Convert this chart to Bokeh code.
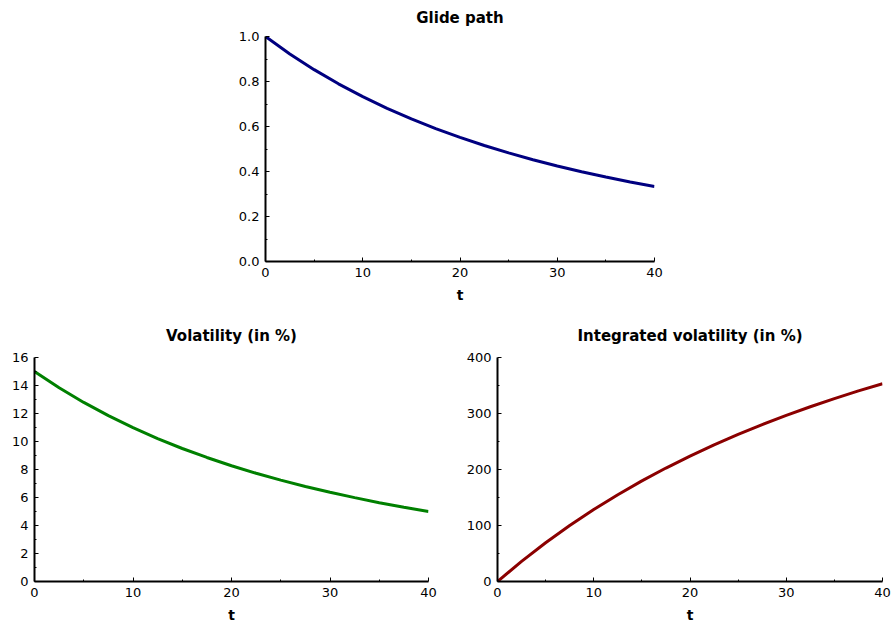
from bokeh.plotting import figure
from bokeh.layouts import column, row
from bokeh.models import Spacer, Range1d, FixedTicker, CustomJSTickFormatter
from bokeh.embed import file_html
from bokeh.resources import INLINE

# Data
t = [0, 2.5, 5, 7.5, 10, 12.5, 15, 17.5, 20, 22.5, 25, 27.5, 30, 32.5, 35, 37.5, 40]
glide = [1.0, 0.9225, 0.8527, 0.7897, 0.7326, 0.6808, 0.6336, 0.5907, 0.5514,
         0.5155, 0.4826, 0.4524, 0.4246, 0.3990, 0.3754, 0.3536, 0.3333]
vol = [15.0, 13.84, 12.79, 11.85, 10.99, 10.21, 9.50, 8.86, 8.27,
       7.73, 7.24, 6.79, 6.37, 5.99, 5.63, 5.30, 5.00]
intvol = [0.0, 36.0, 69.3, 100.1, 128.6, 155.0, 179.7, 202.6, 224.0,
          244.0, 262.7, 280.3, 296.7, 312.1, 326.6, 340.3, 353.2]

x_ticks = [0, 10, 20, 30, 40]
glide_ticks = [0.0, 0.2, 0.4, 0.6, 0.8, 1.0]
vol_ticks = [0, 2, 4, 6, 8, 10, 12, 14, 16]
intvol_ticks = [0, 100, 200, 300, 400]

FONT = "DejaVu Sans"


def make(title, w, h, bl, br, bt, bb, ymax, yticks, yminor, xs, ys, color,
         standoff, valign):
    p = figure(width=w, height=h, output_backend="svg", toolbar_location=None,
               x_range=Range1d(0, 40), y_range=Range1d(0, ymax),
               min_border_left=bl, min_border_right=br,
               min_border_top=bt, min_border_bottom=bb, title=title)
    p.title.align = "center"
    p.title.vertical_align = valign
    p.title.text_font = FONT
    p.title.text_font_size = "15px"
    p.title.text_font_style = "bold"
    p.title.text_color = "black"
    p.title.standoff = standoff
    p.outline_line_color = None
    p.grid.visible = False
    p.line(xs, ys, line_width=3, line_color=color)
    p.xaxis.ticker = FixedTicker(ticks=x_ticks, minor_ticks=[5, 15, 25, 35])
    p.yaxis.ticker = FixedTicker(ticks=yticks, minor_ticks=yminor)
    p.xaxis.axis_label = "t"
    for ax in (p.xaxis, p.yaxis):
        ax.axis_line_width = 2
        ax.axis_line_color = "black"
        ax.major_tick_in = 4
        ax.major_tick_out = 0
        ax.minor_tick_in = 2
        ax.minor_tick_out = 0
        ax.major_tick_line_color = "black"
        ax.minor_tick_line_color = "black"
        ax.major_label_text_font = FONT
        ax.major_label_text_font_size = "13px"
        ax.major_label_text_color = "black"
        ax.major_label_standoff = 6
        ax.axis_label_text_font = FONT
        ax.axis_label_text_font_size = "14px"
        ax.axis_label_text_font_style = "bold"
        ax.axis_label_text_color = "black"
    p.xaxis.axis_label_standoff = 7
    return p


p1 = make("Glide path", 479, 310, 50, 40, 36, 49, 1.0, glide_ticks,
          [0.1, 0.3, 0.5, 0.7, 0.9], t, glide, "#000080", 15, "top")
p1.yaxis.formatter = CustomJSTickFormatter(code="return tick.toFixed(1);")
p2 = make("Volatility (in %)", 452, 315, 34, 24, 47, 43, 16, vol_ticks,
          [1, 3, 5, 7, 9, 11, 13, 15], t, vol, "#008000", 26, "bottom")
p3 = make("Integrated volatility (in %)", 439, 315, 45, 9, 47, 43, 400, intvol_ticks,
          [50, 150, 250, 350], t, intvol, "#8b0000", 26, "bottom")

layout = column(row(Spacer(width=215, height=310), p1), row(p2, p3))

open("out.html", "w").write(file_html(layout, INLINE))
